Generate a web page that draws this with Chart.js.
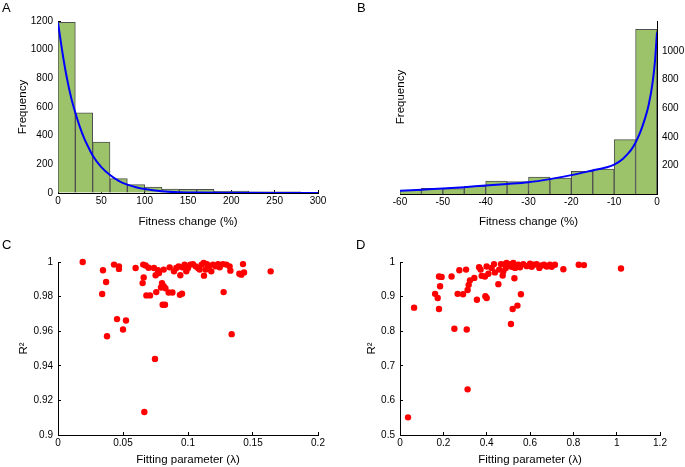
<!DOCTYPE html>
<html><head><meta charset="utf-8">
<script src="https://cdn.jsdelivr.net/npm/chart.js@4.4.0/dist/chart.umd.min.js"></script>
<style>
body{margin:0;background:#fff;width:685px;height:467px;position:relative;overflow:hidden;font-family:'Liberation Sans',Arial,sans-serif;}
canvas{position:absolute;}
.lab{position:absolute;font-size:13px;line-height:13px;color:#000;}
</style></head><body>
<canvas id="cA" width="340" height="235" style="left:0;top:0"></canvas>
<canvas id="cB" width="345" height="235" style="left:340px;top:0"></canvas>
<canvas id="cC" width="340" height="227" style="left:0;top:240px"></canvas>
<canvas id="cD" width="345" height="227" style="left:340px;top:240px"></canvas>
<div class="lab" style="left:2px;top:1px">A</div>
<div class="lab" style="left:357px;top:1px">B</div>
<div class="lab" style="left:2px;top:238px">C</div>
<div class="lab" style="left:356px;top:238px">D</div>
<script>
// ---- Panel A: histogram of positive fitness change ----
const binEdgesA = [0,20,40,60,80,100,120,140,160,180,200,220,240,260,280];
const binWidthA = 20;
const countsA = [1190,560,355,100,58,42,28,25,25,12,13,8,8,8,5];
const curveAx = [0,5,10,15,20,25,30,35,40,50,60,70,80,90,100,120,140,160,200,250,300];
const curveAy = [1190,985,810,670,560,465,385,320,262,180,125,85,58,40,28,13,6,3,1,0,0];
const xTicksA = [0,50,100,150,200,250,300];
const yTicksA = [0,200,400,600,800,1000,1200];

// ---- Panel B: histogram of negative fitness change ----
const binEdgesB = [-60,-55,-50,-45,-40,-35,-30,-25,-20,-15,-10,-5];
const binWidthB = 5;
const countsB = [25,40,38,54,91,87,119,112,158,175,380,1152];
const curveBx = [-60,-55,-50,-45,-40,-35,-30,-25,-20,-15,-12,-10,-8,-7,-6,-5,-4,-3,-2,-1,-0.5,0];
const curveBy = [22,30,38,48,60,70,82,104,132,165,185,205,245,275,310,360,425,510,615,785,920,1130];
const xTicksB = [-60,-50,-40,-30,-20,-10,0];
const yTicksB = [200,400,600,800,1000];

// ---- Panel C: R^2 vs lambda ----
const lamC = [0.019,0.0346,0.034,0.037,0.0377,0.0431,0.0469,0.0469,0.0454,0.050,0.0523,0.0597,0.0656,0.0674,0.0659,0.0651,0.0697,0.068,0.0708,0.0738,0.0751,0.0756,0.0746,0.0664,0.0769,0.0777,0.080,0.0792,0.0813,0.0826,0.0805,0.0823,0.0813,0.0859,0.0851,0.088,0.0892,0.091,0.0928,0.0941,0.0938,0.0954,0.0956,0.0974,0.0987,0.100,0.1018,0.1038,0.1059,0.1077,0.109,0.1105,0.1121,0.1123,0.1136,0.1146,0.1159,0.1179,0.1192,0.1213,0.1231,0.1244,0.1269,0.1295,0.132,0.1326,0.1274,0.1336,0.1395,0.1423,0.1431,0.141,0.1636];
const r2C = [1.000,0.9952,0.9815,0.9884,0.9571,0.9985,0.9975,0.996,0.967,0.961,0.9662,0.9965,0.9985,0.998,0.9911,0.9878,0.9967,0.9807,0.9807,0.9965,0.9923,0.9826,0.944,0.9133,0.9952,0.9936,0.9878,0.9853,0.986,0.9848,0.9753,0.9753,0.9956,0.9969,0.9824,0.9824,0.9946,0.9965,0.9975,0.9923,0.981,0.9817,0.9969,0.9985,0.9946,0.9965,0.9985,0.9988,0.9975,0.9965,0.9956,0.9985,0.9994,0.9921,0.9956,0.9988,0.9969,0.9946,0.9985,0.9975,0.9988,0.9969,0.9988,0.9985,0.9975,0.995,0.9826,0.9583,0.9932,0.9988,0.994,0.9927,0.9946];
const xTicksC = [0,0.05,0.1,0.15,0.2];
const yTicksC = [0.9,0.92,0.94,0.96,0.98,1];

// ---- Panel D: R^2 vs lambda ----
const lamD = [0.037,0.065,0.162,0.174,0.18,0.18,0.185,0.192,0.238,0.251,0.266,0.274,0.291,0.305,0.308,0.312,0.312,0.317,0.323,0.343,0.355,0.365,0.372,0.377,0.392,0.394,0.4,0.4,0.408,0.423,0.434,0.438,0.454,0.458,0.466,0.474,0.477,0.485,0.488,0.492,0.5,0.508,0.512,0.515,0.52,0.523,0.528,0.531,0.542,0.546,0.558,0.554,0.569,0.585,0.6,0.608,0.618,0.631,0.643,0.654,0.665,0.677,0.692,0.7,0.715,0.754,0.825,0.849,1.02];
const r2D = [0.551,0.868,0.908,0.896,0.864,0.958,0.930,0.957,0.958,0.807,0.908,0.976,0.907,0.978,0.805,0.632,0.919,0.934,0.947,0.954,0.891,0.985,0.978,0.960,0.958,0.901,0.896,0.987,0.966,0.983,0.994,0.970,0.936,0.978,0.994,0.961,0.973,0.994,0.983,0.997,0.990,0.994,0.821,0.986,0.864,0.997,0.953,0.983,0.874,0.992,0.907,0.985,0.994,0.988,0.995,0.986,0.992,0.994,0.983,0.990,0.992,0.987,0.992,0.986,0.992,0.979,0.992,0.991,0.981];
const xTicksD = [0,0.2,0.4,0.6,0.8,1,1.2];
const yTicksD = [0.5,0.6,0.7,0.8,0.9,1];

const FONT = "'Liberation Sans', Arial, sans-serif";
Chart.defaults.font.family = FONT;
Chart.defaults.color = '#000';

const BAR_FILL = '#9DC36A';
const BAR_EDGE = '#505050';

function scale(pos, min, max, ticks, size, title, titlePad) {
  const vertical = (pos === 'left' || pos === 'right');
  return {
    type: 'linear', position: pos, min: min, max: max, offset: false,
    afterBuildTicks: s => { s.ticks = ticks.map(v => ({value: v})); },
    afterFit: s => { if (vertical) s.width = size; else s.height = size; },
    grid: {drawOnChartArea: false, drawTicks: true, tickLength: -3, tickColor: '#000', offset: false},
    border: {display: true, color: '#000', width: 1},
    ticks: {font: {size: 10}, color: '#000', padding: vertical ? 8 : 5, maxRotation: 0, autoSkip: false,
            callback: v => String(v)},
    title: {display: !!title, text: title || '', color: '#000', font: {size: 11.5},
            padding: titlePad || {top: 4, bottom: 4}}
  };
}

const common = {
  responsive: false, animation: false, devicePixelRatio: 1,
  plugins: {legend: {display: false}, tooltip: {enabled: false}}
};

// Panel A
new Chart(document.getElementById('cA'), {
  type: 'bar',
  data: {
    datasets: [
      {type: 'line', order: 1, data: curveAx.map((x, i) => ({x: x, y: curveAy[i]})),
       borderColor: '#0000FF', borderWidth: 2, pointRadius: 0, cubicInterpolationMode: 'monotone', fill: false},
      {type: 'bar', order: 2, data: binEdgesA.map((e, i) => ({x: e + binWidthA / 2, y: countsA[i]})),
       backgroundColor: BAR_FILL, borderColor: BAR_EDGE, borderWidth: 1, borderSkipped: 'bottom',
       barPercentage: 1, categoryPercentage: 1}
    ]
  },
  options: Object.assign({}, common, {
    layout: {padding: {left: 12, top: 21, right: 22, bottom: 0}},
    scales: {
      x: scale('bottom', 0, 300, xTicksA, 42, 'Fitness change (%)', {top: 4, bottom: 6}),
      y: scale('left', 0, 1200, yTicksA, 46, 'Frequency')
    }
  })
});

// Panel B
const freqLabel = {
  id: 'freqLabel',
  afterDraw(chart) {
    const ctx = chart.ctx;
    ctx.save();
    ctx.translate(chart.chartArea.left + 1, 97);
    ctx.rotate(-Math.PI / 2);
    ctx.font = "11.5px " + FONT;
    ctx.fillStyle = '#000';
    ctx.textAlign = 'center';
    ctx.textBaseline = 'middle';
    ctx.fillText('Frequency', 0, 0);
    ctx.restore();
  }
};
new Chart(document.getElementById('cB'), {
  type: 'bar',
  data: {
    datasets: [
      {type: 'line', order: 1, data: curveBx.map((x, i) => ({x: x, y: curveBy[i]})),
       borderColor: '#0000FF', borderWidth: 2, pointRadius: 0, cubicInterpolationMode: 'monotone', fill: false},
      {type: 'bar', order: 2, data: binEdgesB.map((e, i) => ({x: e + binWidthB / 2, y: countsB[i]})),
       backgroundColor: BAR_FILL, borderColor: BAR_EDGE, borderWidth: 1, borderSkipped: 'bottom',
       barPercentage: 1, categoryPercentage: 1}
    ]
  },
  options: Object.assign({}, common, {
    layout: {padding: {left: 60, top: 21, right: 0, bottom: 0}},
    scales: {
      x: scale('bottom', -60, 0, xTicksB, 41, 'Fitness change (%)', {top: 4, bottom: 6}),
      y: scale('right', 0, 1210, yTicksB, 28, '')
    }
  }),
  plugins: [freqLabel]
});

// Panel C
new Chart(document.getElementById('cC'), {
  type: 'scatter',
  data: {datasets: [{data: lamC.map((x, i) => ({x: x, y: r2C[i]})), backgroundColor: '#FF0000',
    borderWidth: 0, pointRadius: 3.2, clip: false}]},
  options: Object.assign({}, common, {
    layout: {padding: {left: 13, top: 22, right: 22, bottom: 0}},
    scales: {
      x: scale('bottom', 0, 0.2, xTicksC, 32, 'Fitting parameter (\u03BB)', {top: 4, bottom: 0}),
      y: scale('left', 0.9, 1, yTicksC, 45, 'R\u00B2')
    }
  })
});

// Panel D
new Chart(document.getElementById('cD'), {
  type: 'scatter',
  data: {datasets: [{data: lamD.map((x, i) => ({x: x, y: r2D[i]})), backgroundColor: '#FF0000',
    borderWidth: 0, pointRadius: 3.2, clip: false}]},
  options: Object.assign({}, common, {
    layout: {padding: {left: 21, top: 22, right: 25, bottom: 0}},
    scales: {
      x: scale('bottom', 0, 1.2, xTicksD, 32, 'Fitting parameter (\u03BB)', {top: 4, bottom: 0}),
      y: scale('left', 0.5, 1, yTicksD, 39, 'R\u00B2')
    }
  })
});
</script>
</body></html>
